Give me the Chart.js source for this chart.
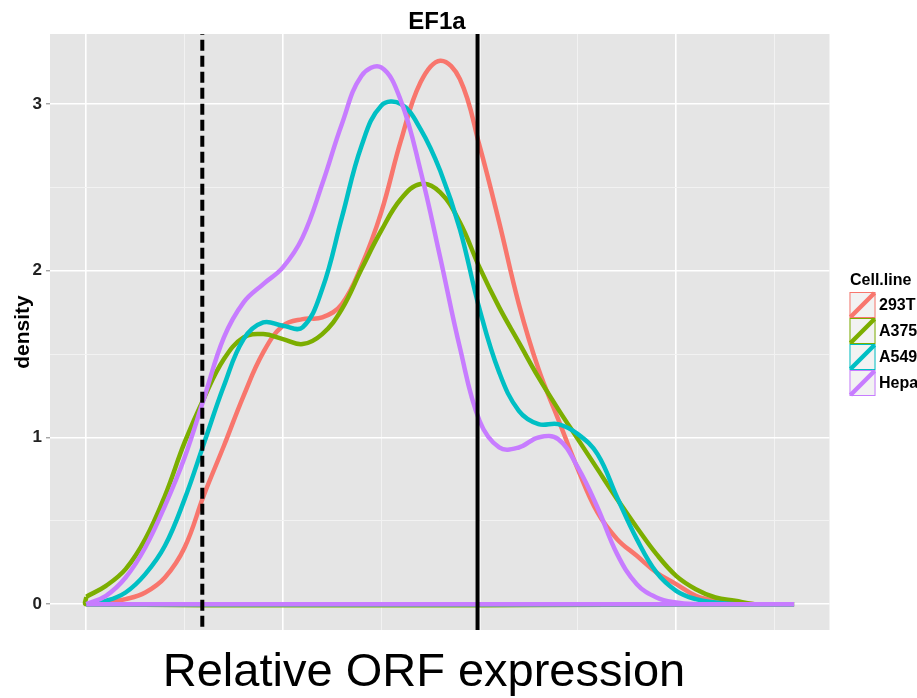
<!DOCTYPE html>
<html>
<head>
<meta charset="utf-8">
<title>EF1a</title>
<script src="https://cdn.jsdelivr.net/npm/chart.js@4.4.1/dist/chart.umd.min.js"></script>
<style>
  html, body { margin: 0; padding: 0; background: #fff; }
  #wrap { width: 917px; height: 698px; }
</style>
</head>
<body>
<div id="wrap"><canvas id="chart-ef1a" width="917" height="698"></canvas></div>
<script>
const plotTitle = 'EF1a';
const xTitle = 'Relative ORF expression';
const yTitle = 'density';
const legendTitle = 'Cell.line';

const cellLines = ['293T', 'A375', 'A549', 'HepaRG'];
const lineColors = ['#F8766D', '#7CAE00', '#00BFC4', '#C77CFF'];

// density sampled every 0.1 along the expression axis
const exprGrid = [0.0, 0.1, 0.2, 0.3, 0.4, 0.5, 0.6, 0.7, 0.8, 0.9,
                  1.0, 1.1, 1.2, 1.3, 1.4, 1.5, 1.6, 1.7, 1.8, 1.9,
                  2.0, 2.1, 2.2, 2.3, 2.4, 2.5, 2.6, 2.7, 2.8, 2.9,
                  3.0, 3.1, 3.2, 3.3, 3.4, 3.5, 3.6];
const dens293T = [0.00, 0.01, 0.03, 0.07, 0.16, 0.34, 0.66, 0.95, 1.25, 1.51,
                  1.67, 1.71, 1.72, 1.80, 2.03, 2.35, 2.78, 3.13, 3.26, 3.15,
                  2.75, 2.29, 1.80, 1.41, 1.11, 0.81, 0.55, 0.39, 0.29, 0.19,
                  0.12, 0.05, 0.02, 0.005, 0, 0, 0];
const densA375 = [0.045, 0.11, 0.21, 0.39, 0.65, 0.97, 1.24, 1.47, 1.60, 1.62,
                  1.59, 1.56, 1.62, 1.77, 2.01, 2.24, 2.43, 2.52, 2.47, 2.29,
                  2.02, 1.78, 1.57, 1.36, 1.17, 0.99, 0.81, 0.63, 0.46, 0.30,
                  0.17, 0.09, 0.04, 0.02, 0, 0, 0];
const densA549 = [0.00, 0.02, 0.07, 0.18, 0.35, 0.63, 0.97, 1.31, 1.59, 1.69,
                  1.67, 1.66, 1.89, 2.32, 2.75, 2.99, 3.00, 2.85, 2.60, 2.25,
                  1.77, 1.39, 1.16, 1.08, 1.08, 1.02, 0.90, 0.64, 0.39, 0.19,
                  0.08, 0.03, 0.01, 0, 0, 0, 0];
const densHepa = [0.00, 0.05, 0.16, 0.34, 0.59, 0.88, 1.24, 1.60, 1.81, 1.92,
                  2.02, 2.20, 2.52, 2.88, 3.17, 3.22, 3.02, 2.60, 2.08, 1.54,
                  1.10, 0.94, 0.94, 1.00, 0.99, 0.82, 0.58, 0.30, 0.12, 0.04,
                  0.01, 0, 0, 0, 0, 0, 0];
const densities = [dens293T, densA375, densA549, densHepa];

// reference cut-offs (vertical lines)
const cutoffDashed = 0.59;
const cutoffSolid = 1.99;

const xGridValues = [0, 0.5, 1, 1.5, 2, 2.5, 3, 3.5];
const yGridValues = [0, 0.5, 1, 1.5, 2, 2.5, 3];

const fontFamily = '"Liberation Sans", Arial, Helvetica, sans-serif';

// geom_density style outline: curve, then back along the zero baseline
function densityOutline(ys) {
  const pts = exprGrid.map((x, i) => ({ x: x, y: ys[i] }));
  pts.push({ x: exprGrid[exprGrid.length - 1], y: 0 });
  pts.push({ x: exprGrid[0], y: 0 });
  pts.push({ x: exprGrid[0], y: ys[0] });
  return pts;
}

const datasets = cellLines.map((name, i) => ({
  label: name,
  data: densityOutline(densities[i]),
  borderColor: lineColors[i],
  borderWidth: 4.5,
  pointRadius: 0,
  tension: 0.4,
  fill: false,
  order: cellLines.length - i
}));

datasets.push({
  label: 'cutoff-dashed',
  data: [{ x: cutoffDashed, y: -1 }, { x: cutoffDashed, y: 5 }],
  borderColor: '#000',
  borderWidth: 4,
  borderDash: [11, 5],
  pointRadius: 0,
  order: 0
});
datasets.push({
  label: 'cutoff-solid',
  data: [{ x: cutoffSolid, y: -1 }, { x: cutoffSolid, y: 5 }],
  borderColor: '#000',
  borderWidth: 4,
  pointRadius: 0,
  order: 0
});

const panelBackground = {
  id: 'panelBackground',
  beforeDraw(chart) {
    const { ctx, chartArea: a } = chart;
    ctx.save();
    ctx.fillStyle = '#E5E5E5';
    ctx.fillRect(a.left, a.top, a.right - a.left, a.bottom - a.top);
    ctx.restore();
  }
};

const plotLabels = {
  id: 'plotLabels',
  afterDraw(chart) {
    const ctx = chart.ctx;
    ctx.save();
    ctx.fillStyle = '#000';
    ctx.textAlign = 'center';
    ctx.textBaseline = 'alphabetic';

    ctx.font = 'bold 24px ' + fontFamily;
    ctx.fillText(plotTitle, 437, 29);

    ctx.font = '47px ' + fontFamily;
    ctx.fillText(xTitle, 424, 686);

    ctx.save();
    ctx.translate(29, 332);
    ctx.rotate(-Math.PI / 2);
    ctx.font = 'bold 21px ' + fontFamily;
    ctx.fillText(yTitle, 0, 0);
    ctx.restore();

    // legend
    ctx.textAlign = 'left';
    ctx.font = 'bold 16px ' + fontFamily;
    ctx.fillText(legendTitle, 850, 285);
    const keyX = 849.5, keyTop = 292, keySize = 26;
    cellLines.forEach((name, i) => {
      const top = keyTop + i * keySize;
      ctx.fillStyle = '#F2F2F2';
      ctx.fillRect(keyX, top, keySize, keySize);
      ctx.strokeStyle = lineColors[i];
      ctx.lineWidth = 1;
      ctx.strokeRect(keyX + 0.5, top + 0.5, keySize - 1, keySize - 1);
      ctx.lineWidth = 4.5;
      ctx.beginPath();
      ctx.moveTo(keyX + 1, top + keySize - 1);
      ctx.lineTo(keyX + keySize - 1, top + 1);
      ctx.stroke();
      ctx.fillStyle = '#000';
      ctx.textBaseline = 'middle';
      ctx.fillText(name, 879, top + keySize / 2 + 1);
    });
    ctx.restore();
  }
};

const isMajor = v => Number.isInteger(v);

new Chart(document.getElementById('chart-ef1a').getContext('2d'), {
  type: 'line',
  data: { datasets: datasets },
  options: {
    responsive: false,
    animation: false,
    devicePixelRatio: 1,
    layout: { padding: { top: 34, right: 87.5, left: 0, bottom: 0 } },
    scales: {
      x: {
        type: 'linear',
        min: -0.1846,
        max: 3.78,
        afterBuildTicks: scale => { scale.ticks = xGridValues.map(v => ({ value: v })); },
        afterFit: scale => { scale.height = 68; },
        ticks: { display: false },
        border: { display: false },
        grid: {
          drawTicks: false,
          color: c => isMajor(c.tick.value) ? '#FFFFFF' : '#F2F2F2',
          lineWidth: c => isMajor(c.tick.value) ? 1.6 : 1
        }
      },
      y: {
        type: 'linear',
        min: -0.155,
        max: 3.42,
        afterBuildTicks: scale => { scale.ticks = yGridValues.map(v => ({ value: v })); },
        afterFit: scale => { scale.width = 50; },
        ticks: {
          padding: 4,
          color: '#222',
          font: { family: fontFamily, size: 17, weight: 'bold' },
          callback: v => isMajor(v) ? String(v) : ''
        },
        border: { display: false },
        grid: {
          drawTicks: true,
          tickLength: 4,
          tickWidth: 1,
          tickColor: c => isMajor(c.tick.value) ? '#7F7F7F' : 'rgba(0,0,0,0)',
          color: c => isMajor(c.tick.value) ? '#FFFFFF' : '#F2F2F2',
          lineWidth: c => isMajor(c.tick.value) ? 1.6 : 1
        }
      }
    },
    plugins: {
      legend: { display: false },
      tooltip: { enabled: false }
    }
  },
  plugins: [panelBackground, plotLabels]
});
</script>
</body>
</html>
